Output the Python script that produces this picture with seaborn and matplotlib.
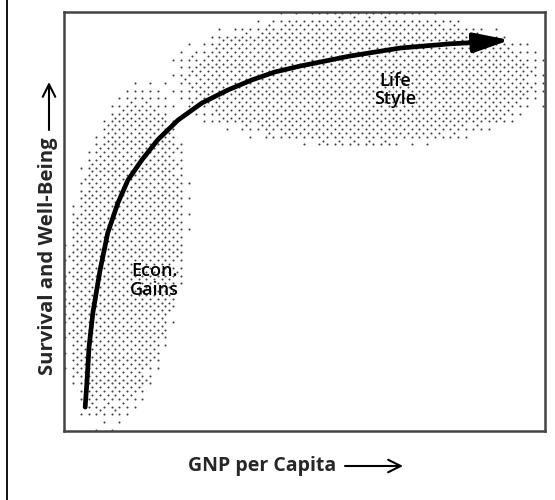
import numpy as np
import seaborn as sns
import matplotlib.pyplot as plt
from matplotlib.lines import Line2D
from matplotlib.patches import FancyArrowPatch

# main curve (both axes scaled 0-100)
gnp = [4.4, 4.8, 5.2, 6.0, 7.5, 9.1, 11.2, 13.3, 16.2, 19.5, 23.7, 28.7, 34.1, 39.1, 43.9,
       49.1, 59.5, 69.9, 80.2, 86.5]
wellbeing = [5.7, 12.2, 20.0, 28.2, 38.4, 47.3, 54.4, 59.9, 64.7, 69.5, 74.2, 78.3, 81.4, 83.8, 85.7,
             87.1, 89.5, 91.4, 92.4, 92.8]
arrow_tip = (92.7, 93.3)

# stippled zones
zone_cx = [12.7, 61.5]
zone_cy = [42.0, 84.0]
zone_rx = [12.5, 40.0]
zone_ry = [41.0, 16.5]
zone_lean = [0.09, 0.0]

# zone labels
zone_labels = ["Econ.\nGains", "Life\nStyle"]
label_x = [18.8, 68.8]
label_y = [36.0, 81.4]

x_title = "GNP per Capita"
y_title = "Survival and Well-Being"


def stipple(ax):
    xs = np.arange(0.3, 100, 0.8)
    ys = np.arange(0.3, 100, 0.92)
    gx, gy = np.meshgrid(xs, ys)
    dens = np.zeros_like(gx)
    for cx, cy, rx, ry, lean in zip(zone_cx, zone_cy, zone_rx, zone_ry, zone_lean):
        r = np.hypot((gx - cx - lean * (gy - cy)) / rx, (gy - cy) / ry)
        dens = np.maximum(dens, np.clip((1.05 - r) * 2.5, 0, 0.5))
    bayer = np.array([[0, 8, 2, 10], [12, 4, 14, 6], [3, 11, 1, 9], [15, 7, 13, 5]]) / 16 + 1 / 32
    thr = bayer[np.arange(len(ys))[:, None] % 4, np.arange(len(xs))[None, :] % 4]
    mask = dens > thr
    ax.scatter(gx[mask], gy[mask], s=2.2, color="#404040", linewidths=0, zorder=1)


def main():
    sns.set_theme(style="white")
    plt.rcParams['font.family'] = ['Open Sans', 'DejaVu Sans']

    fig = plt.figure(figsize=(5.55, 5.0), dpi=100)
    ax = fig.add_axes([64 / 555, 69 / 500, 481 / 555, 419 / 500])

    stipple(ax)
    sns.lineplot(x=gnp, y=wellbeing, sort=False, estimator=None, color="black", linewidth=3.4, ax=ax, zorder=3)
    ax.lines[-1].set_solid_joinstyle("round")
    ax.annotate("", xy=arrow_tip, xytext=(gnp[-1], wellbeing[-1]),
                arrowprops=dict(arrowstyle="-|>,head_length=2.2,head_width=0.6", lw=3, color="black",
                                mutation_scale=10, shrinkA=0, shrinkB=0), zorder=4)

    for txt, x, y in zip(zone_labels, label_x, label_y):
        ax.text(x, y, txt, ha="center", va="center", fontsize=13, fontweight="semibold",
                linespacing=1.05, color="black", zorder=5)

    ax.set_xlim(0, 100)
    ax.set_ylim(0, 100)
    ax.set_xticks([])
    ax.set_yticks([])
    for side in ax.spines.values():
        side.set_color("#444444")
        side.set_linewidth(1.8)

    # axis titles with long open arrows
    W, H = 555, 500
    fig.text(262 / W, 1 - 466 / H, x_title, ha="center", va="center", fontsize=14, fontweight="bold")
    fig.text(48 / W, 1 - 256 / H, y_title, ha="center", va="center", fontsize=14.6, fontweight="bold",
             rotation=90)
    arrow = dict(arrowstyle="->,head_length=0.9,head_width=0.45", lw=1.5, color="black",
                 shrinkA=0, shrinkB=0, mutation_scale=10)
    fig.add_artist(FancyArrowPatch((345 / W, 1 - 466 / H), (403 / W, 1 - 466 / H),
                                   transform=fig.transFigure, **arrow))
    fig.add_artist(FancyArrowPatch((49 / W, 1 - 130 / H), (49 / W, 1 - 82 / H),
                                   transform=fig.transFigure, **arrow))

    fig.add_artist(Line2D([7 / W, 7 / W], [0, 1], color="black", linewidth=1.3, transform=fig.transFigure))

    fig.savefig("out.png", dpi=100)


if __name__ == "__main__":
    main()
